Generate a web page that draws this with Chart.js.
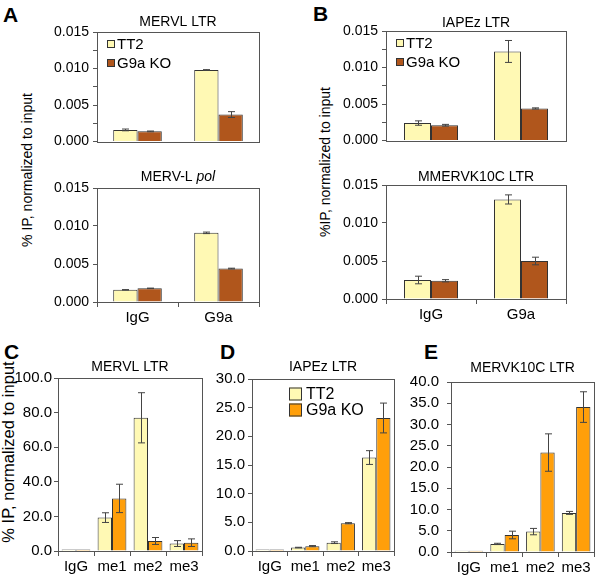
<!DOCTYPE html>
<html>
<head>
<meta charset="utf-8">
<script src="https://cdn.jsdelivr.net/npm/chart.js@4.4.1/dist/chart.umd.min.js"></script>
<style>
  body { margin: 0; background: #fff; }
  #fig { position: relative; width: 600px; height: 579px; font-family: "Liberation Sans", Arial, sans-serif; }
  #fig canvas { position: absolute; }
  .letter { position: absolute; font-weight: bold; font-size: 21px; line-height: 1; }
  .ylab { position: absolute; white-space: nowrap; transform: translate(-50%, -50%) rotate(-90deg); line-height: 1; }
</style>
</head>
<body>
<div id="fig">
  <div class="letter" style="left:3px;top:4px">A</div>
  <div class="letter" style="left:313px;top:3px">B</div>
  <div class="letter" style="left:4px;top:341px">C</div>
  <div class="letter" style="left:220px;top:341px">D</div>
  <div class="letter" style="left:424px;top:341px">E</div>
  <div class="ylab" style="left:27px;top:170px;font-size:14px">% IP, normalized to input</div>
  <div class="ylab" style="left:325px;top:162px;font-size:14px">%IP, normalized to input</div>
  <div class="ylab" style="left:8px;top:452px;font-size:16.5px">% IP, normalized to input</div>
</div>
<script>
// categorias y series
const topCats = ["IgG", "G9a"];
const histCats = ["IgG", "me1", "me2", "me3"];
const serie1 = "TT2";
const serie2 = "G9a KO";

// A - MERVL LTR
const mervlLtrTT2 = [0.0016, 0.0098];
const mervlLtrTT2Err = [0.00012, 0.00005];
const mervlLtrKO = [0.0014, 0.0037];
const mervlLtrKOErr = [0.00005, 0.0004];
// A - MERV-L pol
const mervlPolTT2 = [0.0016, 0.0091];
const mervlPolTT2Err = [0.00003, 0.0001];
const mervlPolKO = [0.0018, 0.0044];
const mervlPolKOErr = [0.00003, 0.00005];
// B - IAPEz LTR
const iapLtrTT2 = [0.0024, 0.0122];
const iapLtrTT2Err = [0.0003, 0.0015];
const iapLtrKO = [0.0021, 0.0044];
const iapLtrKOErr = [0.00012, 0.00008];
// B - MMERVK10C LTR
const mmervkTT2 = [0.0025, 0.0131];
const mmervkTT2Err = [0.0005, 0.0006];
const mmervkKO = [0.0024, 0.005];
const mmervkKOErr = [0.00015, 0.0005];
// C - MERVL LTR (histonas)
const cTT2 = [0.8, 19.3, 77.0, 4.3];
const cTT2Err = [0, 2.8, 14.5, 1.7];
const cKO = [0.8, 30.4, 5.8, 4.8];
const cKOErr = [0, 8.2, 2.0, 2.2];
// D - IAPEz LTR
const dTT2 = [0.25, 0.6, 1.45, 16.3];
const dTT2Err = [0, 0.05, 0.15, 1.2];
const dKO = [0.25, 0.85, 4.85, 23.2];
const dKOErr = [0, 0.1, 0.1, 2.6];
// E - MERVK10C LTR
const eTT2 = [0.3, 1.9, 4.8, 9.2];
const eTT2Err = [0, 0.15, 0.75, 0.35];
const eKO = [0.3, 4.0, 23.4, 34.1];
const eKOErr = [0, 0.9, 4.4, 3.6];

const amarillo = "#FFF9B4";
const cafe = "#B0561C";
const naranja = "#FF9F0A";
const fuente = "Liberation Sans";

//plugin: marco, titulo, barras de error y leyenda
const panelPlugin = {
  id: "panel",
  afterDatasetsDraw(chart) {
    const ctx = chart.ctx;
    const a = chart.chartArea;
    const o = chart.options.plugins.panel;
    const y = chart.scales.y;
    // barras de error
    ctx.save();
    ctx.strokeStyle = "#444";
    ctx.lineWidth = 1;
    chart.data.datasets.forEach((ds, i) => {
      chart.getDatasetMeta(i).data.forEach((el, j) => {
        const err = ds.errors[j];
        if (!err) return;
        const x = Math.round(el.x) + 0.5;
        const y1 = y.getPixelForValue(ds.data[j] + err);
        const y2 = y.getPixelForValue(ds.data[j] - err);
        ctx.beginPath();
        ctx.moveTo(x, y1); ctx.lineTo(x, y2);
        ctx.moveTo(x - 3.5, y1); ctx.lineTo(x + 3.5, y1);
        ctx.moveTo(x - 3.5, y2); ctx.lineTo(x + 3.5, y2);
        ctx.stroke();
      });
    });
    // marco
    ctx.strokeStyle = "#555";
    ctx.strokeRect(Math.round(a.left) + 0.5, Math.round(a.top) + 0.5, Math.round(a.right - a.left), Math.round(a.bottom - a.top));
    // titulo
    ctx.fillStyle = "#000";
    ctx.textBaseline = "middle";
    let total = 0;
    o.title.forEach((p) => {
      ctx.font = (p.italic ? "italic " : "") + o.titleSize + "px " + fuente;
      total += ctx.measureText(p.text).width;
    });
    let tx = (a.left + a.right) / 2 - total / 2;
    o.title.forEach((p) => {
      ctx.font = (p.italic ? "italic " : "") + o.titleSize + "px " + fuente;
      ctx.textAlign = "left";
      ctx.fillText(p.text, tx, a.top - o.titleOffset);
      tx += ctx.measureText(p.text).width;
    });
    // leyenda
    if (o.legend) {
      const L = o.legend;
      ctx.font = L.size + "px " + fuente;
      chart.data.datasets.forEach((ds, i) => {
        const bx = a.left + L.x;
        const by = a.top + L.y + i * L.step;
        ctx.fillStyle = ds.backgroundColor;
        ctx.fillRect(bx, by - L.box / 2, L.box, L.box);
        ctx.strokeStyle = "#333";
        ctx.strokeRect(bx + 0.5, by - L.box / 2 + 0.5, L.box - 1, L.box - 1);
        ctx.fillStyle = "#000";
        ctx.fillText(ds.label, bx + L.box + L.gap, by + 1);
      });
    }
    ctx.restore();
  },
};

function crearPanel(box, plot, cats, s1, s1Err, s2, s2Err, color2, ops) {
  const canvas = document.createElement("canvas");
  canvas.width = box.r - box.l;
  canvas.height = box.b - box.t;
  canvas.style.left = box.l + "px";
  canvas.style.top = box.t + "px";
  document.getElementById("fig").appendChild(canvas);
  const decimales = ops.decimales;
  const config = {
    type: "bar",
    data: {
      labels: cats,
      datasets: [
        { label: serie1, data: s1, errors: s1Err, backgroundColor: amarillo, borderColor: "#333", borderWidth: 1 },
        { label: serie2, data: s2, errors: s2Err, backgroundColor: color2, borderColor: "#333", borderWidth: 1 },
      ],
    },
    options: {
      responsive: false,
      animation: false,
      devicePixelRatio: 1,
      layout: { padding: { top: plot.t - box.t, right: box.r - plot.r, left: 0, bottom: 0 } },
      datasets: { bar: { categoryPercentage: ops.cat, barPercentage: 1, borderSkipped: "bottom" } },
      plugins: {
        legend: { display: false },
        tooltip: { enabled: false },
        panel: { title: ops.title, titleSize: ops.titleSize, titleOffset: ops.titleOffset, legend: ops.legend },
      },
      scales: {
        x: {
          display: true,
          offset: true,
          border: { display: false },
          grid: { display: ops.xTicks, offset: true, drawOnChartArea: false, tickLength: 5, color: "#555" },
          ticks: { display: ops.xLabels, color: "#000", padding: 2, font: { family: fuente, size: ops.xSize } },
          afterFit: (s) => { s.height = box.b - plot.b; },
        },
        y: {
          min: 0,
          max: ops.max,
          border: { display: false },
          grid: { drawOnChartArea: false, tickLength: 4, color: "#555" },
          ticks: {
            stepSize: ops.step,
            color: "#000",
            padding: ops.yPad,
            font: { family: fuente, size: ops.ySize },
            callback: (v, i) => (i % ops.every === 0 ? v.toFixed(decimales) : ""),
          },
          afterFit: (s) => { s.width = plot.l - box.l; },
        },
      },
    },
    plugins: [panelPlugin],
  };
  return new Chart(canvas, config);
}

const legendaArriba = { x: 10, y: 12, step: 19, box: 8, gap: 2, size: 15 };

// A arriba
crearPanel({ l: 0, t: 10, r: 272, b: 154 }, { l: 97, t: 32, r: 259, b: 150 }, topCats,
  mervlLtrTT2, mervlLtrTT2Err, mervlLtrKO, mervlLtrKOErr, cafe,
  { title: [{ text: "MERVL LTR" }], titleSize: 14, titleOffset: 10, max: 0.015, step: 0.0025, every: 2, decimales: 3,
    cat: 0.6, xTicks: false, xLabels: false, xSize: 15, ySize: 14, yPad: 4, legend: legendaArriba });
// A abajo
crearPanel({ l: 0, t: 166, r: 272, b: 332 }, { l: 97, t: 188, r: 259, b: 302 }, topCats,
  mervlPolTT2, mervlPolTT2Err, mervlPolKO, mervlPolKOErr, cafe,
  { title: [{ text: "MERV-L " }, { text: "pol", italic: true }], titleSize: 14, titleOffset: 10.5, max: 0.015, step: 0.0025, every: 2, decimales: 3,
    cat: 0.6, xTicks: true, xLabels: true, xSize: 15, ySize: 14, yPad: 4, legend: null });
// B arriba
crearPanel({ l: 300, t: 10, r: 580, b: 153 }, { l: 386, t: 31, r: 566, b: 149 }, topCats,
  iapLtrTT2, iapLtrTT2Err, iapLtrKO, iapLtrKOErr, cafe,
  { title: [{ text: "IAPEz LTR" }], titleSize: 14, titleOffset: 8, max: 0.015, step: 0.0025, every: 2, decimales: 3,
    cat: 0.6, xTicks: false, xLabels: false, xSize: 15, ySize: 14, yPad: 4, legend: legendaArriba });
// B abajo
crearPanel({ l: 300, t: 163, r: 580, b: 329 }, { l: 386, t: 185, r: 566, b: 299 }, topCats,
  mmervkTT2, mmervkTT2Err, mmervkKO, mmervkKOErr, cafe,
  { title: [{ text: "MMERVK10C LTR" }], titleSize: 14, titleOffset: 8, max: 0.015, step: 0.0025, every: 2, decimales: 3,
    cat: 0.6, xTicks: true, xLabels: true, xSize: 15, ySize: 14, yPad: 4, legend: null });
// C
crearPanel({ l: 0, t: 356, r: 206, b: 579 }, { l: 58, t: 378, r: 202, b: 551 }, histCats,
  cTT2, cTT2Err, cKO, cKOErr, naranja,
  { title: [{ text: "MERVL LTR" }], titleSize: 14, titleOffset: 11, max: 100, step: 20, every: 1, decimales: 1,
    cat: 0.8, xTicks: true, xLabels: true, xSize: 15, ySize: 15, yPad: 2, legend: null });
// D
crearPanel({ l: 206, t: 357, r: 398, b: 579 }, { l: 252, t: 379, r: 394, b: 551 }, histCats,
  dTT2, dTT2Err, dKO, dKOErr, naranja,
  { title: [{ text: "IAPEz LTR" }], titleSize: 14, titleOffset: 12, max: 30, step: 5, every: 1, decimales: 1,
    cat: 0.8, xTicks: true, xLabels: true, xSize: 15, ySize: 15, yPad: 3,
    legend: { x: 37, y: 15, step: 16, box: 13, gap: 4, size: 16 } });
// E
crearPanel({ l: 398, t: 360, r: 600, b: 579 }, { l: 451, t: 382, r: 594, b: 552 }, histCats,
  eTT2, eTT2Err, eKO, eKOErr, naranja,
  { title: [{ text: "MERVK10C LTR" }], titleSize: 14, titleOffset: 14, max: 40, step: 5, every: 1, decimales: 1,
    cat: 0.8, xTicks: true, xLabels: true, xSize: 15, ySize: 15, yPad: 8, legend: null });
</script>
</body>
</html>
